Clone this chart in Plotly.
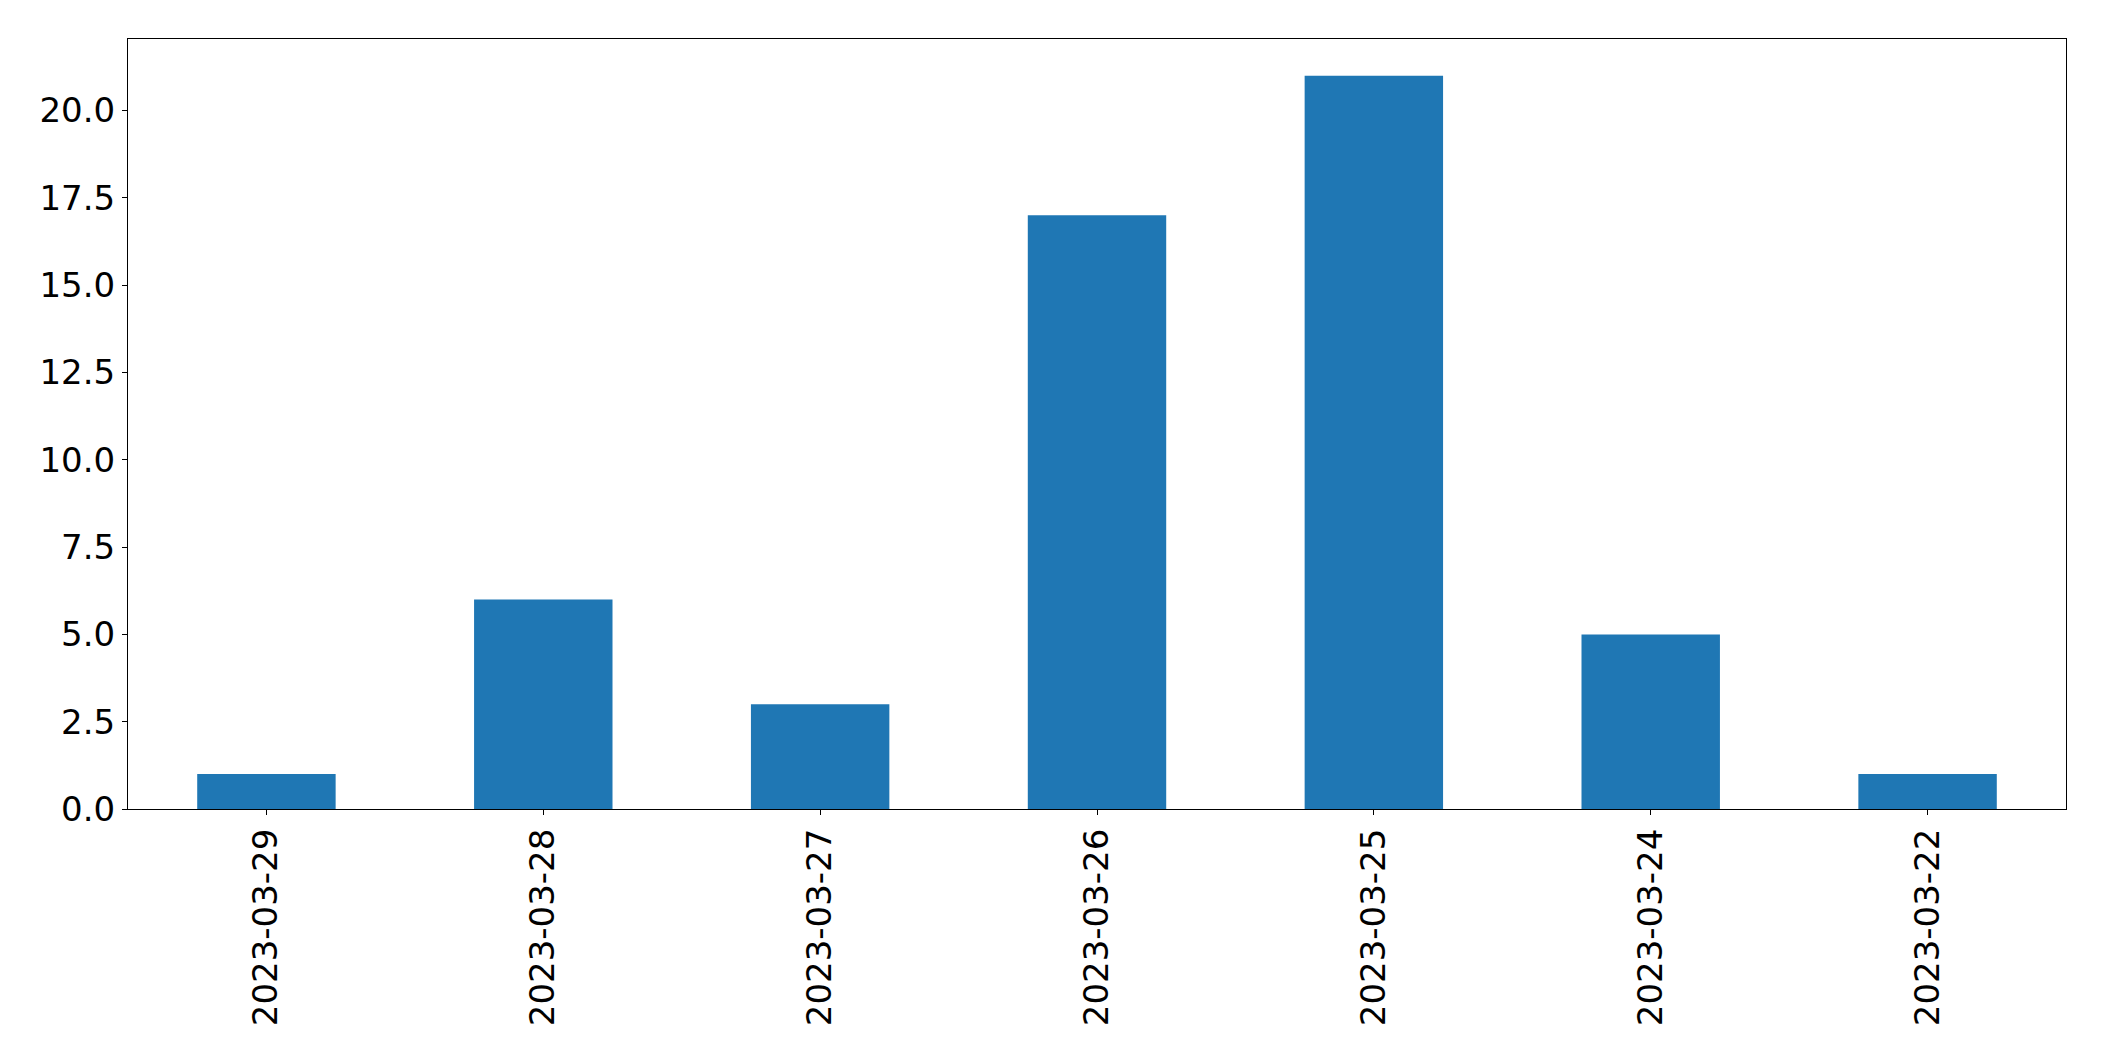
import plotly.graph_objects as go

dates = ["2023-03-29", "2023-03-28", "2023-03-27", "2023-03-26", "2023-03-25", "2023-03-24", "2023-03-22"]
counts = [1, 6, 3, 17, 21, 5, 1]
y_ticks = [0, 2.5, 5, 7.5, 10, 12.5, 15, 17.5, 20]
y_tick_labels = ["0.0", "2.5", "5.0", "7.5", "10.0", "12.5", "15.0", "17.5", "20.0"]

fig = go.Figure(go.Bar(x=list(range(len(dates))), y=counts, width=0.5,
                       marker=dict(color="#1f77b4", line=dict(width=0))))

fig.update_layout(
    width=2096, height=1053,
    margin=dict(l=120, r=38, t=31, b=252),
    paper_bgcolor="white", plot_bgcolor="white",
    font=dict(family="DejaVu Sans", size=34, color="black"),
    showlegend=False,
)
fig.update_xaxes(
    range=[-0.5, 6.5], tickvals=list(range(len(dates))), ticktext=dates,
    tickangle=-90, showline=True, linecolor="black", linewidth=1.1, mirror=True,
    ticks="outside", ticklen=5, tickwidth=1.1, tickcolor="black",
    showgrid=False, zeroline=False,
)
fig.update_yaxes(
    range=[0, 22.05], tickvals=y_ticks, ticktext=y_tick_labels,
    showline=True, linecolor="black", linewidth=1.1, mirror=True,
    ticks="outside", ticklen=5, tickwidth=1.1, tickcolor="black",
    showgrid=False, zeroline=False,
)
fig.write_html("out.html")
